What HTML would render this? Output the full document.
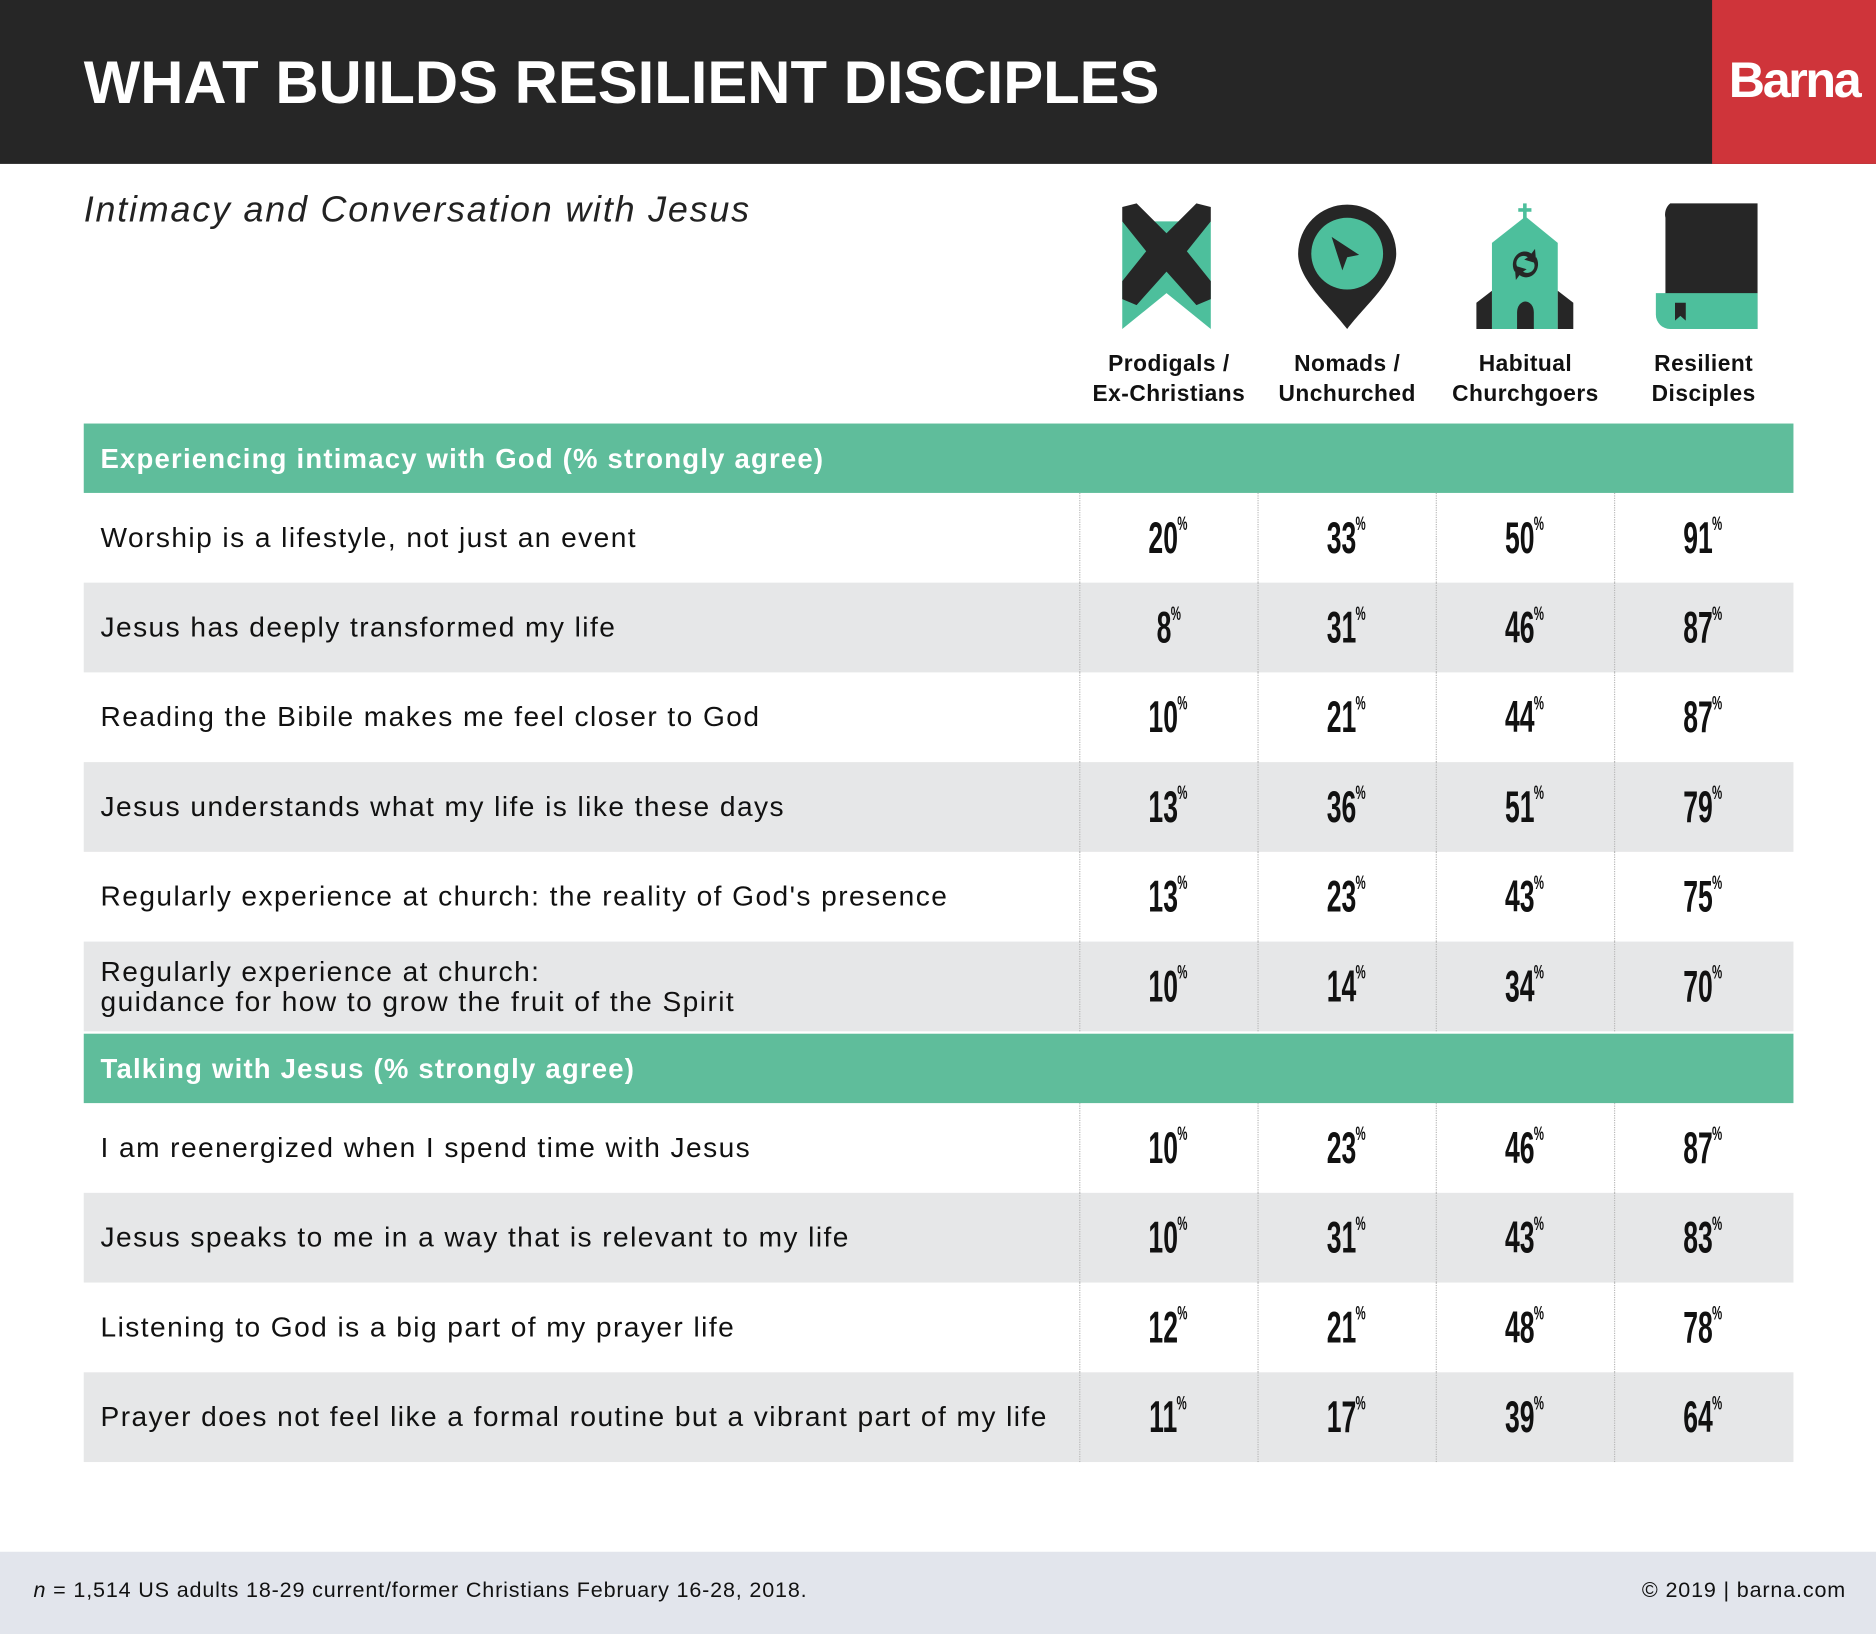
<!DOCTYPE html>
<html><head><meta charset="utf-8"><style>
*{margin:0;padding:0;box-sizing:border-box}
html,body{width:1876px;height:1634px;overflow:hidden;background:#fff}
#w{width:1568px;height:1366px;position:relative;transform:scale(1.19643);transform-origin:0 0;font-family:"Liberation Sans",sans-serif;color:#111}
.a{position:absolute}
.hdr{left:0;top:0;width:1568px;height:137px;background:#262626}
.red{left:1431px;top:0;width:137px;height:137px;background:#cf343a;color:#fff;font-weight:bold;font-size:42px;letter-spacing:-2px;text-align:center;line-height:134px}
.title{left:70px;top:40px;color:#fff;font-weight:bold;font-size:50px;letter-spacing:0}
.sub{left:70px;top:159px;font-style:italic;font-size:30px;color:#222;letter-spacing:1.5px}
.cl{width:150px;text-align:center;font-weight:bold;font-size:19px;line-height:25px;top:292px;letter-spacing:0.4px}
.sec{left:70px;width:1429px;height:58px;background:#5fbd9b;color:#fff;font-weight:bold;font-size:23px;padding-left:14px;line-height:58px;letter-spacing:1px}
.row{left:70px;width:1429px;height:75px}
.g{background:#e6e7e8}
.lab{position:absolute;left:14px;top:0;height:75px;display:flex;align-items:center;font-size:23.5px;line-height:25px;letter-spacing:1.2px;white-space:nowrap}
.n{position:absolute;top:0;width:149px;height:75px;text-align:center;line-height:75px;font-weight:bold;font-size:37px}
.n span{display:inline-block;transform:scaleX(0.6);transform-origin:center}
.n sup{font-size:16px;vertical-align:top;position:relative;top:-11px;margin-left:-1px}
.vl{position:absolute;top:0;height:75px;border-left:1px dotted #b8b8b8}
.ft{left:0;top:1297px;width:1568px;height:69px;background:#e2e5ec;font-size:18px;line-height:64px;letter-spacing:0.7px}
</style></head><body><div id="w">
<div class="a hdr"></div><div class="a red">Barna</div>
<div class="a title">WHAT BUILDS RESILIENT DISCIPLES</div>
<div class="a sub">Intimacy and Conversation with Jesus</div>

<svg class="a" style="left:900px;top:165px" width="600" height="115" viewBox="0 0 600 115">
<polygon points="38,20 112,20 112,110 75,80 38,110" fill="#4dbf9c"/>
<polygon points="38,8 50,5 75,30 100,5 112,8 112,20 92,45 112,70 112,85 100,90 75,62 50,90 38,85 38,70 58,45 38,20" fill="#262626"/>
<path d="M226,6 a41,41 0 0 1 41,41 c0,22 -25,42 -41,63 c-16,-21 -41,-41 -41,-63 a41,41 0 0 1 41,-41z" fill="#262626"/>
<circle cx="226" cy="47" r="30" fill="#4dbf9c"/>
<polygon points="213,33 236,48 226,50 222,61" fill="#262626"/>
<rect x="373" y="5" width="3" height="14" fill="#4dbf9c"/><rect x="369" y="9" width="11" height="3" fill="#4dbf9c"/>
<polygon points="347,38 375,16 402,38 402,110 347,110" fill="#4dbf9c"/>
<polygon points="334,88 347,78 347,110 334,110" fill="#262626"/><polygon points="415,88 402,78 402,110 415,110" fill="#262626"/>
<path d="M368,110 v-14 a7,9 0 0 1 14,0 v14z" fill="#262626"/>
<path d="M366,62 a10,11 0 0 1 14,-15 l3,-4 l1,12 l-10,-3 l3,-2 a6,6 0 0 0 -7,10z M384,50 a10,11 0 0 1 -14,15 l-3,4 l-1,-12 l10,3 l-3,2 a6,6 0 0 0 7,-10z" fill="#262626"/>
<path d="M496,5 h73 v105 h-65 a12,12 0 0 1 -12,-12 v-81 a12,12 0 0 1 4,-12z" fill="#262626"/>
<path d="M484,80 h85 v30 h-73 a12,12 0 0 1 -12,-12z" fill="#4dbf9c"/>
<polygon points="500,88 509,88 509,103 504.5,99 500,103" fill="#262626"/>
</svg>
<div class="a cl" style="left:902px">Prodigals /<br>Ex-Christians</div>
<div class="a cl" style="left:1051px">Nomads /<br>Unchurched</div>
<div class="a cl" style="left:1200px">Habitual<br>Churchgoers</div>
<div class="a cl" style="left:1349px">Resilient<br>Disciples</div>

<div class="a sec" style="top:354px">Experiencing intimacy with God (% strongly agree)</div>
<div class="a sec" style="top:864px">Talking with Jesus (% strongly agree)</div>

<div id="rows"></div>
<div class="a ft"><span style="position:absolute;left:28px"><i>n</i> = 1,514 US adults 18-29 current/former Christians February 16-28, 2018.</span><span style="position:absolute;right:25px">© 2019 | barna.com</span></div>
</div>
<script>
var d=[[412,"Worship is a lifestyle, not just an event",[20,33,50,91]],
[487,"Jesus has deeply transformed my life",[8,31,46,87]],
[562,"Reading the Bibile makes me feel closer to God",[10,21,44,87]],
[637,"Jesus understands what my life is like these days",[13,36,51,79]],
[712,"Regularly experience at church: the reality of God's presence",[13,23,43,75]],
[787,"Regularly experience at church:<br>guidance for how to grow the fruit of the Spirit",[10,14,34,70]],
[922,"I am reenergized when I spend time with Jesus",[10,23,46,87]],
[997,"Jesus speaks to me in a way that is relevant to my life",[10,31,43,83]],
[1072,"Listening to God is a big part of my prayer life",[12,21,48,78]],
[1147,"Prayer does not feel like a formal routine but a vibrant part of my life",[11,17,39,64]]];
var h="";d.forEach(function(r,i){var g=(i%2==1)?" g":"";
h+='<div class="a row'+g+'" style="top:'+r[0]+'px"><div class="lab">'+r[1]+'</div>';
[832,981,1130,1279].forEach(function(x,j){h+='<div class="vl" style="left:'+x+'px"></div><div class="n" style="left:'+x+'px"><span>'+r[2][j]+'<sup>%</sup></span></div>'});
h+='</div>'});
document.getElementById('rows').innerHTML=h;
</script>
</body></html>
